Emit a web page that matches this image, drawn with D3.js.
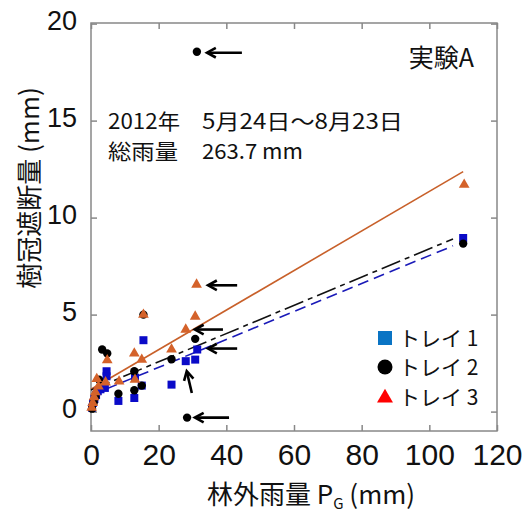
<!DOCTYPE html>
<html><head><meta charset="utf-8">
<script src="https://cdn.jsdelivr.net/npm/d3@7"></script>
<style>body{margin:0;background:#fff}svg{display:block}</style>
</head><body>
<svg id="c" width="523" height="517"></svg>
<script>
// ---- data ----
const xTicks = [0, 20, 40, 60, 80, 100, 120];
const yTicks = [0, 5, 10, 15, 20];
const tray1X = [0.3, 0.6, 1.0, 1.5, 2.0, 2.8, 4.1, 4.6, 4.6, 8.1, 12.8, 13, 15.5, 15, 23.8, 28, 30.8, 31.4, 110];
const tray1Y = [0.2, 0.45, 0.65, 0.85, 1.05, 1.15, 1.22, 2.08, 1.82, 0.55, 0.7, 1.75, 3.68, 1.34, 1.39, 2.6, 2.68, 3.2, 8.95];
const tray2X = [0.3, 0.8, 1.3, 2.4, 3.3, 4.8, 8.1, 12.8, 12.8, 15, 15.5, 23.8, 28.4, 30.8, 31.3, 110];
const tray2Y = [0.15, 0.45, 0.75, 1.65, 3.2, 3.0, 0.92, 1.1, 2.08, 1.34, 5.0, 2.7, -0.31, 3.75, 18.55, 8.66];
const tray3X = [0.2, 0.5, 0.9, 1.3, 1.7, 2.2, 4.3, 4.8, 8.3, 12.8, 13, 15, 15.5, 23.8, 28, 30.8, 31.2, 110.3];
const tray3Y = [0.2, 0.45, 0.75, 1.0, 1.68, 1.3, 1.51, 2.65, 1.56, 3.0, 1.65, 2.68, 5.0, 3.2, 4.23, 4.9, 6.55, 11.7];
// regression lines: [slope, intercept, xStart, xEnd]
const fit1 = [0.072, 0.84, 0, 107];
const fit2 = [0.0728, 1.11, 0, 107];
const fit3 = [0.102, 1.15, 0, 110];
// annotation arrows: [xTail, yTail, xHead, yHead]
const arrows = [
  [44.6, 18.5, 34.3, 18.5],
  [43.2, 6.51, 34.6, 6.51],
  [39.0, 4.23, 30.7, 4.23],
  [43.2, 3.25, 34.6, 3.25],
  [29.8, 0.96, 28.3, 2.08],
  [40.8, -0.31, 30.7, -0.31]
];
const legendLabels = ["トレイ 1", "トレイ 2", "トレイ 3"];

// ---- chart ----
const svg = d3.select("#c");
const L = 91, R = 497, T = 23, B = 431;
const x = d3.scaleLinear().domain([0, 120]).range([L, R]);
const y = d3.scaleLinear().domain([-1, 20]).range([B, 431 - 21 * 19.4]);
const axisCol = "#888";
const jp = "'Noto Sans CJK JP', sans-serif";
const ar = "'Liberation Sans', Arial, sans-serif";

// frame
svg.append("rect").attr("x", L).attr("y", T).attr("width", R - L).attr("height", B - T)
  .attr("fill", "none").attr("stroke", axisCol).attr("stroke-width", 1.5);

// axes with inward ticks
const gB = svg.append("g").attr("transform", `translate(0,${B})`)
  .call(d3.axisBottom(x).tickValues(xTicks).tickSize(-6).tickPadding(13).tickFormat(d3.format("d")));
const gT = svg.append("g").attr("transform", `translate(0,${T})`)
  .call(d3.axisTop(x).tickValues(xTicks).tickSize(-6).tickFormat(""));
const gL = svg.append("g").attr("transform", `translate(${L},0)`)
  .call(d3.axisLeft(y).tickValues(yTicks).tickSize(-6).tickPadding(14).tickFormat(d3.format("d")));
const gR = svg.append("g").attr("transform", `translate(${R},0)`)
  .call(d3.axisRight(y).tickValues(yTicks).tickSize(-6).tickFormat(""));
[gB, gT, gL, gR].forEach(g => {
  g.select(".domain").remove();
  g.selectAll(".tick line").attr("stroke", axisCol).attr("stroke-width", 1.5);
});
gB.selectAll(".tick text").attr("font-family", ar).attr("font-size", 30).attr("fill", "#111").attr("dy", "0.71em");
gL.selectAll(".tick text").attr("font-family", ar).attr("font-size", 27).attr("fill", "#111").attr("dy", "0.2em");

// regression lines
function fitLine(f, color, dash, width) {
  const pts = [[f[2], f[0] * f[2] + f[1]], [f[3], f[0] * f[3] + f[1]]];
  svg.append("path").attr("d", d3.line().x(d => x(d[0])).y(d => y(d[1]))(pts))
    .attr("fill", "none").attr("stroke", color).attr("stroke-width", width)
    .attr("stroke-dasharray", dash);
}
fitLine(fit3, "#c8602a", null, 1.6);
fitLine(fit2, "#111", "20,5,5,5", 1.6);
fitLine(fit1, "#1a1ab8", "11,6", 1.6);

// markers
const sq = d3.symbol().type(d3.symbolSquare).size(64);
const ci = d3.symbol().type(d3.symbolCircle).size(55);
const tr = d3.symbol().type(d3.symbolTriangle).size(50);
svg.append("g").selectAll("path").data(d3.zip(tray1X, tray1Y)).join("path")
  .attr("d", sq).attr("transform", d => `translate(${x(d[0])},${y(d[1])})`).attr("fill", "#0a0ac8");
svg.append("g").selectAll("path").data(d3.zip(tray2X, tray2Y)).join("path")
  .attr("d", ci).attr("transform", d => `translate(${x(d[0])},${y(d[1])})`).attr("fill", "#000");
svg.append("g").selectAll("path").data(d3.zip(tray3X, tray3Y)).join("path")
  .attr("d", tr).attr("transform", d => `translate(${x(d[0])},${y(d[1])})`).attr("fill", "#d4622a");

// arrows
arrows.forEach(a => {
  const x1 = x(a[0]), y1 = y(a[1]), x2 = x(a[2]), y2 = y(a[3]);
  const ang = Math.atan2(y2 - y1, x2 - x1);
  const hl = 10, ha = 0.5;
  svg.append("line").attr("x1", x1).attr("y1", y1).attr("x2", x2 - Math.cos(ang) * 2).attr("y2", y2 - Math.sin(ang) * 2)
    .attr("stroke", "#000").attr("stroke-width", 2.6);
  const p = [[x2 - hl * Math.cos(ang - ha), y2 - hl * Math.sin(ang - ha)], [x2, y2], [x2 - hl * Math.cos(ang + ha), y2 - hl * Math.sin(ang + ha)]];
  svg.append("path").attr("d", d3.line()(p)).attr("fill", "none").attr("stroke", "#000").attr("stroke-width", 2.6)
    .attr("stroke-linejoin", "miter");
});

// texts
svg.append("text").attr("x", 474).attr("y", 67).attr("text-anchor", "end").attr("font-family", jp)
  .attr("font-size", 25).attr("fill", "#111").text("実験A");
function note(t, xx, yy, w) {
  svg.append("text").attr("x", xx).attr("y", yy).attr("font-family", jp).attr("font-size", 21)
    .attr("fill", "#111").attr("textLength", w).attr("lengthAdjust", "spacingAndGlyphs").text(t);
}
note("2012年", 108, 129, 72);
note("5月24日～8月23日", 202, 129, 201);
note("総雨量", 108, 159, 70);
note("263.7 mm", 202, 159, 101);

// legend
const legY = [338, 367, 397];
svg.append("rect").attr("x", 378).attr("y", legY[0] - 7).attr("width", 14).attr("height", 14).attr("fill", "#0a74c4");
svg.append("circle").attr("cx", 385).attr("cy", legY[1]).attr("r", 7.5).attr("fill", "#000");
svg.append("path").attr("d", d3.symbol().type(d3.symbolTriangle).size(110)()).attr("transform", `translate(385,${legY[2] + 1})`).attr("fill", "#ff0000");
legendLabels.forEach((t, i) => {
  svg.append("text").attr("x", 399).attr("y", legY[i]).attr("dy", "0.36em").attr("font-family", jp)
    .attr("font-size", 21).attr("fill", "#111").text(t);
});

// axis titles
const xt = svg.append("text").attr("x", 311).attr("y", 504).attr("text-anchor", "middle").attr("font-family", jp)
  .attr("font-size", 26).attr("fill", "#111");
xt.append("tspan").text("林外雨量 P");
xt.append("tspan").attr("font-size", 15).attr("dy", 5).text("G");
xt.append("tspan").attr("dy", -5).text(" (mm)");
svg.append("text").attr("transform", "translate(39,188) rotate(-90)").attr("text-anchor", "middle").attr("font-family", jp)
  .attr("font-size", 26).attr("fill", "#111").text("樹冠遮断量 (mm)");
</script>
</body></html>
